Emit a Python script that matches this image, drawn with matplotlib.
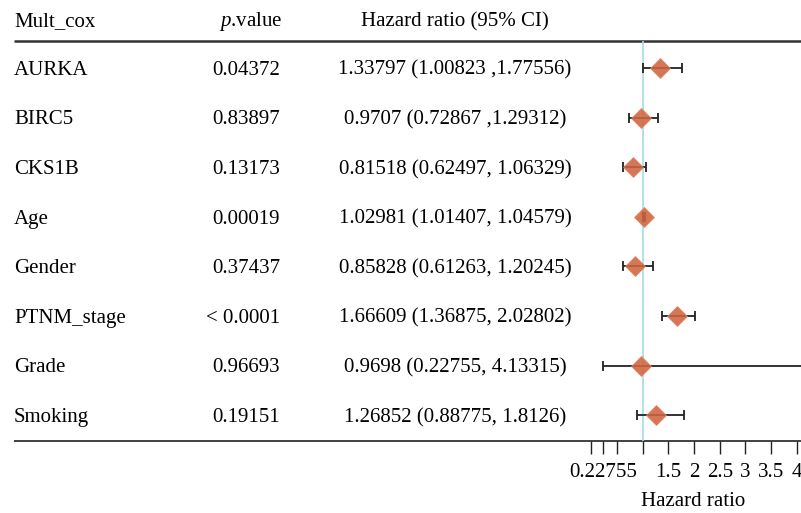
import matplotlib
matplotlib.use('Agg')
import matplotlib.pyplot as plt

plt.rcParams['font.family'] = ['Liberation Serif', 'DejaVu Serif']
plt.rcParams['mathtext.fontset'] = 'custom'
plt.rcParams['mathtext.rm'] = 'Liberation Serif'
plt.rcParams['mathtext.it'] = 'Liberation Serif:italic'

# data
variables = ['AURKA', 'BIRC5', 'CKS1B', 'Age', 'Gender', 'PTNM_stage', 'Grade', 'Smoking']
pvalues = ['0.04372', '0.83897', '0.13173', '0.00019', '0.37437', '< 0.0001', '0.96693', '0.19151']
hr = [1.33797, 0.9707, 0.81518, 1.02981, 0.85828, 1.66609, 0.9698, 1.26852]
lower = [1.00823, 0.72867, 0.62497, 1.01407, 0.61263, 1.36875, 0.22755, 0.88775]
upper = [1.77556, 1.29312, 1.06329, 1.04579, 1.20245, 2.02802, 4.13315, 1.8126]
hr_text = ['1.33797 (1.00823 ,1.77556)', '0.9707 (0.72867 ,1.29312)',
           '0.81518 (0.62497, 1.06329)', '1.02981 (1.01407, 1.04579)',
           '0.85828 (0.61263, 1.20245)', '1.66609 (1.36875, 2.02802)',
           '0.9698 (0.22755, 4.13315)', '1.26852 (0.88775, 1.8126)']
xticks = [0, 0.22755, 0.5, 1, 1.5, 2, 2.5, 3, 3.5, 4]
xticklabels = ['', '0.22755', '', '', '1.5', '2', '2.5', '3', '3.5', '4']

W, H = 801, 513
fs = 15
fig = plt.figure(figsize=(W / 100, H / 100), dpi=100)

# table part, pixel coordinates
tax = fig.add_axes([0, 0, 1, 1])
tax.set_xlim(0, W)
tax.set_ylim(H, 0)
tax.axis('off')

top, bottom = 41, 441
row0, step = 68, 49.6
base = 6.8  # baseline offset below row centre

tax.text(14, 26, 'Mult_cox', fontsize=fs, va='baseline', ha='left')
tax.text(282, 26, r'$\mathit{p}$.value', fontsize=fs, va='baseline', ha='right')
tax.text(455, 26, 'Hazard ratio (95% CI)', fontsize=fs, va='baseline', ha='center')
for i, name in enumerate(variables):
    y = row0 + i * step + base
    tax.text(14, y, name, fontsize=fs, va='baseline', ha='left')
    tax.text(280, y, pvalues[i], fontsize=fs, va='baseline', ha='right')
    tax.text(455, y, hr_text[i], fontsize=fs, va='baseline', ha='center')

tax.plot([14, W], [top, top], color='#333333', lw=1.8, solid_capstyle='butt')
tax.plot([14, W], [bottom, bottom], color='#222222', lw=1.2, solid_capstyle='butt')

# forest part
px_per_unit = 51.36
zero_px = 591.3
left_px = 585
ax = fig.add_axes([left_px / W, (H - bottom) / H, (W - left_px) / W, (bottom - top) / H])
ax.set_xlim((left_px - zero_px) / px_per_unit, (W - zero_px) / px_per_unit)
n = len(variables)
ax.set_ylim((bottom - row0) / step, -(row0 - top) / step)
ax.patch.set_alpha(0)
for s in ['top', 'right', 'left', 'bottom']:
    ax.spines[s].set_visible(False)
ax.set_yticks([])

ax.axvline(1, color='#a3dbe2', lw=1.2, zorder=1)
ys = list(range(n))
xerr = [[h - l for h, l in zip(hr, lower)], [u - h for h, u in zip(hr, upper)]]
ax.errorbar(hr, ys, xerr=xerr, fmt='none', ecolor='#222222', elinewidth=1.3,
            capsize=3.8, capthick=1.3, zorder=2)
ax.plot(hr, ys, 'D', ms=10.5, color='#d0643f', mec='#e0866a', mew=0.6, alpha=0.88,
        ls='none', zorder=3)

ax.set_xticks(xticks)
ax.set_xticklabels(xticklabels, fontsize=fs)
ax.tick_params(axis='x', length=9, width=1, color='#222222', pad=6.5)
ax.set_xlabel('Hazard ratio', fontsize=fs, labelpad=7.5)

fig.savefig('out.png', dpi=100)
